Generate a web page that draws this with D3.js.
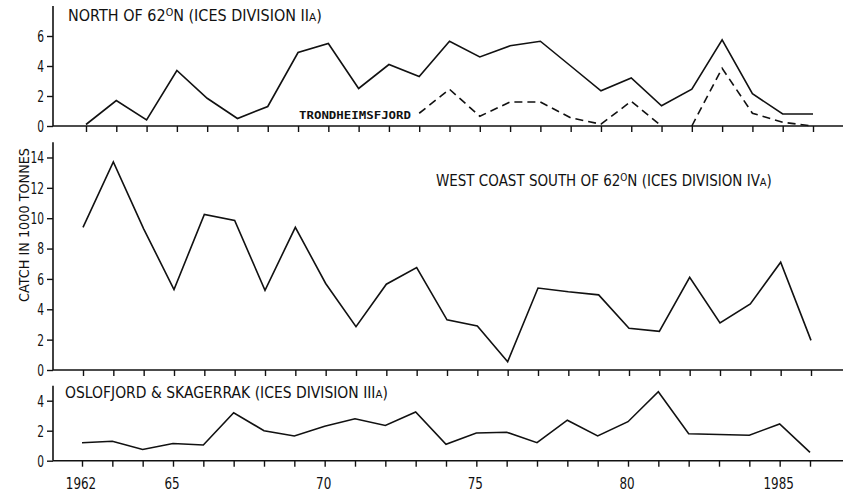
<!DOCTYPE html>
<html>
<head>
<meta charset="utf-8">
<script src="https://cdn.jsdelivr.net/npm/d3@7/dist/d3.min.js"></script>
<style>
  html, body { margin: 0; padding: 0; background: #fff; }
  svg { display: block; }
</style>
</head>
<body>
<svg id="chart" width="844" height="496"></svg>
<script>
// Norwegian catch, thousand tonnes, 1962-1986
const years = d3.range(1962, 1987);

const northIIa = [0.1, 1.7, 0.4, 3.7, 1.85, 0.5, 1.3, 4.9, 5.5, 2.5, 4.1, 3.3, 5.65, 4.6, 5.35, 5.65, 4.0, 2.35, 3.2, 1.35, 2.45, 5.75, 2.15, 0.8, 0.8];
// Trondheimsfjord part, reported from 1973 (null = not reported)
const trondheimsfjord = [null, null, null, null, null, null, null, null, null, null, null, 0.85, 2.45, 0.65, 1.6, 1.6, 0.55, 0.12, 1.65, 0.0, 0.0, 3.85, 0.85, 0.25, 0.0];
// the dashed line is interrupted between these two years
const trondheimsGap = [1981, 1982];
const westIVa = [9.4, 13.7, 9.3, 5.3, 10.25, 9.85, 5.25, 9.4, 5.7, 2.85, 5.65, 6.75, 3.3, 2.9, 0.55, 5.4, 5.15, 4.95, 2.75, 2.55, 6.1, 3.1, 4.35, 7.1, 1.95];
const osloIIIa = [1.2, 1.3, 0.75, 1.15, 1.05, 3.2, 2.0, 1.65, 2.3, 2.8, 2.35, 3.25, 1.1, 1.85, 1.9, 1.2, 2.7, 1.65, 2.6, 4.6, 1.8, 1.75, 1.7, 2.45, 0.55];

const yTicksNorth = [0, 2, 4, 6];
const yTicksWest = [0, 2, 4, 6, 8, 10, 12, 14];
const yTicksOslo = [0, 2, 4];
const xLabelYears = [1962, 1965, 1970, 1975, 1980, 1985];
const xLabelText = ["1962", "65", "70", "75", "80", "1985"];

const FONT = "'DejaVu Sans', sans-serif";
const INK = "#111";
const svg = d3.select("#chart");
const axisX = 53, axisRight = 843;

// narrow, tall lettering: squeeze glyphs to a set width per character
function squeeze(sel, perChar) {
  sel.attr("textLength", function () { return this.textContent.length * perChar; })
     .attr("lengthAdjust", "spacingAndGlyphs");
}

function panel(opts) {
  const g = svg.append("g");
  const x = d3.scaleLinear().domain([1962, 1986]).range(opts.xRange);
  const y = d3.scaleLinear().domain([0, opts.yMax]).range(opts.yRange);

  // y axis
  const ya = g.append("g").attr("transform", `translate(${axisX},0)`)
    .call(d3.axisLeft(y).tickValues(opts.yTicks).tickFormat(d3.format("d"))
      .tickSize(6).tickPadding(3).tickSizeOuter(0));
  ya.select(".domain").remove();
  ya.selectAll("line").attr("stroke", INK).attr("stroke-width", 1.4);
  ya.selectAll("text").attr("font-size", 15).attr("fill", INK).attr("font-family", FONT)
    .attr("dy", "0.36em").call(squeeze, 6.8);
  g.append("line").attr("x1", axisX).attr("x2", axisX)
    .attr("y1", y(0)).attr("y2", y(opts.yMax))
    .attr("stroke", INK).attr("stroke-width", 1.6);

  // x axis baseline with yearly ticks
  const xa = g.append("g").attr("transform", `translate(0,${y(0)})`)
    .call(d3.axisBottom(x).tickValues(years).tickSize(6).tickFormat("").tickSizeOuter(0));
  xa.select(".domain").remove();
  xa.selectAll("line").attr("stroke", INK).attr("stroke-width", 1.4);
  g.append("line").attr("x1", axisX).attr("x2", axisRight)
    .attr("y1", y(0)).attr("y2", y(0))
    .attr("stroke", INK).attr("stroke-width", 1.6);

  const line = d3.line()
    .defined(d => d[1] !== null)
    .x(d => x(d[0])).y(d => y(d[1]));

  opts.series.forEach(s => {
    const pts = years.map((yr, i) => [yr, s.values[i]]);
    // split into separate runs where a gap is given
    const runs = [];
    if (s.gap) {
      const cut = years.indexOf(s.gap[1]);
      runs.push(pts.slice(0, cut), pts.slice(cut));
    } else runs.push(pts);
    runs.forEach(run => {
      g.append("path").datum(run)
        .attr("d", line)
        .attr("fill", "none")
        .attr("stroke", INK)
        .attr("stroke-width", 1.6)
        .attr("stroke-dasharray", s.dash || null);
    });
  });
  return { g, x, y };
}

// panel heading, compressed horizontally to the given width
function title(g, xPos, yPos, width, parts) {
  const t = g.append("text").attr("x", 0).attr("y", 0)
    .attr("font-size", 15).attr("font-family", FONT).attr("fill", INK);
  parts.forEach(p => {
    const ts = t.append("tspan").text(p.t);
    if (p.sup) ts.attr("font-size", 10).attr("dy", -5);
    if (p.small) ts.attr("font-size", 11);
    if (p.after) ts.attr("dy", 5);
  });
  const natural = t.node().getComputedTextLength();
  t.attr("transform", `translate(${xPos},${yPos}) scale(${width / natural},1)`);
  return t;
}

// North of 62°N
const pNorth = panel({
  xRange: [86, 813], yRange: [126, 6], yMax: 8, yTicks: yTicksNorth,
  series: [
    { values: northIIa },
    { values: trondheimsfjord, dash: "8,5", gap: trondheimsGap }
  ]
});
title(pNorth.g, 68, 21, 254, [
  { t: "NORTH OF 62" }, { t: "O", sup: true }, { t: "N (ICES DIVISION II", after: true }, { t: "A", small: true }, { t: ")" }
]);
pNorth.g.append("text")
  .attr("x", 299).attr("y", 119)
  .attr("font-size", 11).attr("font-weight", "bold")
  .attr("font-family", "'DejaVu Sans Mono', monospace").attr("fill", INK)
  .attr("textLength", 112).attr("lengthAdjust", "spacingAndGlyphs")
  .text("TRONDHEIMSFJORD");

// West coast south of 62°N
const pWest = panel({
  xRange: [83, 811], yRange: [370, 142.3], yMax: 15, yTicks: yTicksWest,
  series: [{ values: westIVa }]
});
title(pWest.g, 436, 186, 336, [
  { t: "WEST COAST SOUTH OF 62" }, { t: "O", sup: true }, { t: "N (ICES DIVISION IV", after: true }, { t: "A", small: true }, { t: ")" }
]);

// Oslofjord & Skagerrak
const pOslo = panel({
  xRange: [82, 810], yRange: [460.7, 385.7], yMax: 5, yTicks: yTicksOslo,
  series: [{ values: osloIIIa }]
});
title(pOslo.g, 65, 397.5, 323, [
  { t: "OSLOFJORD & SKAGERRAK (ICES DIVISION III" }, { t: "A", small: true }, { t: ")" }
]);

// year labels under the bottom panel
pOslo.g.selectAll("text.year").data(xLabelYears).enter().append("text")
  .attr("class", "year")
  .attr("x", d => pOslo.x(d) - 1).attr("y", 489)
  .attr("text-anchor", "middle").attr("font-size", 15)
  .attr("font-family", FONT).attr("fill", INK)
  .text((d, i) => xLabelText[i])
  .call(squeeze, 7.6);

// shared y-axis title
svg.append("text")
  .attr("transform", "translate(29,225) rotate(-90)")
  .attr("text-anchor", "middle").attr("font-size", 14)
  .attr("font-family", FONT).attr("fill", INK)
  .attr("textLength", 154).attr("lengthAdjust", "spacingAndGlyphs")
  .text("CATCH IN 1000 TONNES");
</script>
</body>
</html>
